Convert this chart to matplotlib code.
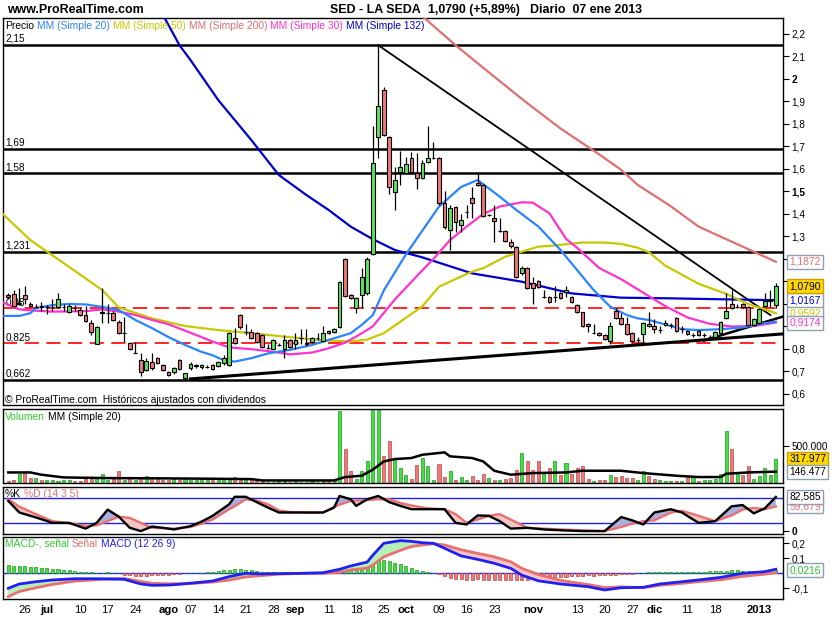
import numpy as np
import pandas as pd
import matplotlib
matplotlib.use("Agg")
import matplotlib.pyplot as plt
from matplotlib import font_manager
from matplotlib.transforms import blended_transform_factory as blend

# ---------------- data ----------------
dates = pd.bdate_range("2012-06-21", "2013-01-07")
dates = dates.drop(pd.to_datetime(["2012-12-25", "2012-12-26", "2013-01-01"]))

opens = [1.040, 1.044, 0.998, 1.040, 1.000, 0.988, 0.993, 0.985, 0.985, 0.987,
         0.985, 0.964, 0.982, 0.973, 0.951, 0.915, 0.822, 0.962, 0.960, 0.960,
         0.920, 0.871, 0.827, 0.782, 0.751, 0.707, 0.742, 0.760, 0.729, 0.698,
         0.698, 0.751, 0.671, 0.716, 0.725, 0.719, 0.722, 0.729, 0.726, 0.738,
         0.729, 0.849, 0.951, 0.876, 0.876, 0.871, 0.862, 0.804, 0.800, 0.818,
         0.800, 0.840, 0.822, 0.849, 0.820, 0.831, 0.849, 0.836, 0.880, 0.876,
         0.898, 1.200, 1.040, 0.982, 1.040, 1.049, 1.222, 1.742, 1.951, 1.742,
         1.498, 1.587, 1.582, 1.649, 1.582, 1.560, 1.631, 1.649, 1.649, 1.449,
         1.329, 1.431, 1.351, 1.409, 1.471, 1.538, 1.529, 1.396, 1.382, 1.324,
         1.324, 1.276, 1.253, 1.138, 1.160, 1.093, 1.102, 1.031, 1.031, 1.031,
         1.049, 1.053, 1.031, 0.996, 0.964, 0.911, 0.871, 0.871, 0.862, 0.836,
         0.969, 0.938, 0.911, 0.871, 0.840, 0.867, 0.911, 0.902, 0.884, 0.907,
         0.905, 0.938, 0.889, 0.880, 0.862, 0.880, 0.862, 0.855, 0.853, 0.871,
         0.938, 1.000, 0.988, 1.000, 0.987, 0.907, 0.915, 0.991, 1.015, 0.996]
highs = [1.050, 1.060, 1.070, 1.080, 1.010, 1.000, 1.010, 0.995, 1.020, 1.050,
         1.000, 1.000, 0.995, 0.985, 0.990, 0.930, 0.900, 1.071, 1.000, 0.970,
         0.930, 0.942, 0.830, 0.830, 0.780, 0.760, 0.780, 0.765, 0.735, 0.702,
         0.720, 0.755, 0.695, 0.740, 0.735, 0.735, 0.730, 0.735, 0.748, 0.775,
         0.875, 0.893, 0.955, 0.910, 0.890, 0.875, 0.866, 0.820, 0.845, 0.825,
         0.860, 0.845, 0.870, 0.890, 0.890, 0.855, 0.870, 0.900, 0.885, 0.895,
         1.100, 1.205, 1.045, 1.030, 1.160, 1.210, 1.791, 2.151, 1.965, 1.745,
         1.609, 1.680, 1.655, 1.675, 1.670, 1.640, 1.791, 1.720, 1.652, 1.500,
         1.440, 1.435, 1.400, 1.440, 1.520, 1.582, 1.532, 1.400, 1.440, 1.380,
         1.330, 1.290, 1.256, 1.170, 1.165, 1.120, 1.105, 1.060, 1.035, 1.080,
         1.052, 1.080, 1.035, 1.000, 0.966, 0.914, 0.910, 0.874, 0.865, 0.920,
         0.980, 0.960, 0.940, 0.875, 0.855, 0.920, 0.964, 0.933, 0.900, 0.930,
         0.915, 0.942, 0.900, 0.884, 0.870, 0.884, 0.870, 0.862, 0.880, 0.925,
         1.049, 1.062, 1.000, 1.004, 0.990, 0.936, 0.982, 1.049, 1.062, 1.093]
lows = [1.020, 0.985, 0.995, 1.000, 0.985, 0.980, 0.970, 0.955, 0.970, 0.980,
        0.970, 0.960, 0.970, 0.945, 0.920, 0.860, 0.820, 0.915, 0.915, 0.925,
        0.865, 0.831, 0.795, 0.780, 0.680, 0.700, 0.705, 0.735, 0.700, 0.680,
        0.690, 0.705, 0.662, 0.705, 0.715, 0.710, 0.715, 0.705, 0.720, 0.730,
        0.725, 0.820, 0.890, 0.860, 0.845, 0.825, 0.805, 0.800, 0.798, 0.812,
        0.760, 0.805, 0.800, 0.820, 0.815, 0.825, 0.840, 0.830, 0.868, 0.870,
        0.895, 1.030, 1.020, 0.960, 0.982, 1.040, 1.218, 1.649, 1.745, 1.490,
        1.418, 1.530, 1.580, 1.585, 1.510, 1.555, 1.628, 1.645, 1.440, 1.335,
        1.240, 1.320, 1.320, 1.380, 1.380, 1.525, 1.385, 1.390, 1.277, 1.320,
        1.275, 1.250, 1.115, 1.130, 1.065, 1.000, 1.070, 1.025, 1.005, 1.010,
        1.022, 1.030, 1.005, 0.960, 0.898, 0.875, 0.866, 0.858, 0.840, 0.820,
        0.935, 0.908, 0.862, 0.832, 0.820, 0.822, 0.898, 0.871, 0.870, 0.900,
        0.895, 0.876, 0.870, 0.862, 0.855, 0.858, 0.855, 0.848, 0.850, 0.866,
        0.935, 0.978, 0.980, 0.983, 0.904, 0.904, 0.912, 0.988, 0.985, 0.982]
closes = [1.030, 0.991, 1.003, 1.022, 0.991, 0.988, 0.985, 0.985, 0.987, 1.022,
          0.985, 0.991, 0.980, 0.951, 0.925, 0.876, 0.898, 0.965, 0.960, 0.929,
          0.871, 0.871, 0.800, 0.782, 0.698, 0.747, 0.716, 0.738, 0.707, 0.684,
          0.716, 0.711, 0.693, 0.733, 0.730, 0.728, 0.722, 0.710, 0.744, 0.760,
          0.871, 0.827, 0.898, 0.876, 0.849, 0.831, 0.809, 0.804, 0.840, 0.818,
          0.840, 0.809, 0.838, 0.849, 0.827, 0.849, 0.849, 0.871, 0.871, 0.889,
          1.098, 1.036, 1.027, 1.027, 1.120, 1.200, 1.627, 1.880, 1.751, 1.520,
          1.551, 1.609, 1.622, 1.587, 1.560, 1.627, 1.649, 1.649, 1.449, 1.342,
          1.427, 1.364, 1.373, 1.409, 1.449, 1.529, 1.391, 1.396, 1.369, 1.324,
          1.280, 1.258, 1.120, 1.160, 1.071, 1.071, 1.076, 1.031, 1.009, 1.031,
          1.027, 1.062, 1.009, 0.964, 0.902, 0.902, 0.871, 0.862, 0.844, 0.902,
          0.938, 0.911, 0.867, 0.836, 0.840, 0.915, 0.902, 0.889, 0.884, 0.915,
          0.905, 0.880, 0.889, 0.867, 0.862, 0.862, 0.862, 0.855, 0.876, 0.920,
          0.969, 0.982, 0.988, 0.987, 0.907, 0.933, 0.978, 1.013, 1.019, 1.079]

# moving averages (read at sample points)
sma20_idx = [-1, 2, 4, 5, 8, 11, 14, 17, 20, 23, 26, 29, 32, 35, 37, 39, 41, 44, 47, 51,
             55, 58, 62, 64, 66, 68, 72, 78, 82, 85, 89, 92, 96, 100, 103, 106, 109, 112, 114, 116,
             122, 125, 129, 133, 136, 139]
sma20 = [0.947, 0.947, 0.959, 0.982, 0.995, 1.000, 0.998, 0.987, 0.973, 0.929,
         0.893, 0.853, 0.818, 0.787, 0.772, 0.750, 0.744, 0.759, 0.780, 0.796,
         0.818, 0.840, 0.870, 0.907, 0.950, 1.060, 1.220, 1.433, 1.520, 1.551,
         1.477, 1.418, 1.344, 1.240, 1.151, 1.062, 0.988, 0.951, 0.936, 0.929,
         0.888, 0.884, 0.888, 0.896, 0.911, 0.921]
sma30_idx = [-1, 2, 5, 8, 14, 17, 20, 23, 26, 29, 33, 37, 40, 44, 48, 51, 55, 58, 61, 63,
             66, 70, 75, 77, 80, 83, 86, 89, 93, 95, 98, 101, 103, 107, 111, 115, 119, 123, 127, 131,
             135, 139]
sma30 = [1.007, 0.976, 0.970, 0.966, 0.968, 0.976, 0.966, 0.951, 0.929, 0.910,
         0.872, 0.833, 0.807, 0.799, 0.788, 0.776, 0.784, 0.803, 0.828, 0.855,
         0.900, 1.020, 1.150, 1.200, 1.284, 1.344, 1.400, 1.433, 1.452, 1.450,
         1.403, 1.290, 1.250, 1.160, 1.110, 1.050, 0.990, 0.940, 0.912, 0.900,
         0.902, 0.9174]
sma50_idx = [-1, 2, 4, 11, 17, 20, 26, 32, 38, 44, 50, 56, 62, 65, 68, 71, 75, 78, 84, 86,
             90, 92, 96, 98, 104, 108, 111, 114, 116, 119, 125, 130, 134, 139]
sma50 = [1.400, 1.330, 1.284, 1.165, 1.062, 0.985, 0.936, 0.902, 0.884, 0.870,
         0.855, 0.840, 0.833, 0.842, 0.870, 0.921, 0.990, 1.077, 1.144, 1.159,
         1.210, 1.225, 1.255, 1.258, 1.273, 1.273, 1.267, 1.250, 1.230, 1.170,
         1.090, 1.045, 1.000, 0.9592]
sma132_idx = [27, 31, 33, 38, 44, 49, 54, 58, 62, 66, 70, 75, 84, 93, 102, 111, 120, 129, 139]
sma132 = [2.330, 2.150, 2.084, 1.907, 1.729, 1.573, 1.484, 1.418, 1.344, 1.288,
          1.240, 1.207, 1.136, 1.099, 1.047, 1.028, 1.025, 1.021, 1.0167]
sma200_idx = [74, 81, 87, 94, 100, 107, 111, 114, 120, 125, 131, 137, 139]
sma200 = [2.300, 2.150, 2.030, 1.892, 1.780, 1.665, 1.596, 1.529, 1.434, 1.344, 1.277, 1.210, 1.1872]

solid_levels = [2.15, 1.69, 1.58, 1.231, 0.662]
solid_labels = ["2,15", "1,69", "1,58", "1,231", "0,662"]
dashed_levels = [0.98, 0.825]
dashed_labels = ["0,98", "0,825"]

trend_desc = ([67, 138], [2.150, 0.951])
trend_low = ([33, 140.3], [0.667, 0.867])
trend_steep = ([126, 140.3], [0.838, 0.944])

# volume (thousands)
volume_k = [14, 36, 118, 127, 59, 55, 36, 27, 36, 18,
            27, 36, 18, 23, 45, 45, 55, 118, 36, 45,
            150, 36, 55, 27, 73, 82, 55, 45, 36, 36,
            45, 36, 45, 27, 36, 45, 36, 27, 55, 45,
            64, 73, 36, 45, 55, 14, 14, 9, 9, 18,
            18, 9, 18, 9, 9, 18, 9, 18, 27, 45,
            968, 455, 159, 45, 159, 286, 1100, 1100, 364, 568,
            318, 195, 105, 45, 241, 332, 218, 36, 255, 73,
            150, 36, 73, 36, 91, 36, 118, 55, 27, 27,
            45, 59, 173, 400, 286, 173, 286, 118, 195, 295,
            105, 264, 118, 195, 218, 50, 23, 27, 27, 105,
            73, 82, 55, 59, 36, 159, 91, 45, 27, 23,
            23, 23, 23, 91, 91, 23, 27, 27, 45, 118,
            695, 455, 136, 105, 218, 50, 82, 195, 105, 318]
vma_idx = [0, 4, 6, 10, 18, 28, 37, 44, 46, 59, 61, 64, 66, 68, 70, 73, 75, 79, 80, 84,
           86, 88, 91, 95, 101, 104, 111, 115, 121, 125, 129, 130, 134, 139]
vma_k = [136, 136, 105, 68, 59, 55, 50, 45, 27, 27, 73, 91, 173, 286, 318, 332, 377, 409, 355, 332,
         286, 159, 105, 127, 136, 159, 159, 127, 91, 73, 73, 118, 136, 146.477]

# stochastic
st_idx = [0, 2, 5, 8, 11, 14, 16, 18, 20, 22, 24, 26, 28, 30, 33, 35, 37, 40, 41, 43,
          45, 47, 49, 51, 54, 57, 59, 60, 62, 63, 65, 67, 69, 71, 73, 76, 79, 81, 83, 85,
          87, 89, 91, 94, 97, 100, 104, 108, 111, 113, 115, 117, 120, 122, 125, 128, 131, 133, 135, 137,
          139]
st_k = [73, 45, 33, 20, 20, 6, 20, 52, 35, 8, 0, 11, 8, 4, 12, 23, 37, 65, 83, 83,
        70, 57, 45, 45, 45, 45, 57, 85, 77, 61, 77, 85, 70, 61, 53, 53, 53, 20, 16, 38,
        37, 24, 6, 8, 4, 2, 0, 0, 34, 26, 16, 45, 53, 45, 20, 24, 60, 63, 43, 55,
        82.585]
st_d = [77, 59, 41, 24, 19, 13, 14, 24, 35, 32, 20, 8, 7, 6, 10, 18, 28, 53, 60, 77,
        74, 65, 50, 46, 45, 45, 58, 64, 73, 74, 75, 77, 77, 68, 62, 55, 53, 41, 20, 28,
        37, 41, 28, 8, 6, 4, 2, 0, 10, 18, 24, 26, 45, 49, 37, 24, 38, 52, 56, 53,
        59.679]

# MACD
m_idx = [0, 2, 5, 8, 12, 17, 21, 24, 26, 29, 31, 34, 37, 40, 43, 46, 49, 53, 57, 60,
         62, 65, 66, 68, 71, 73, 75, 77, 79, 82, 85, 88, 91, 93, 96, 100, 105, 108, 111, 115,
         118, 122, 125, 129, 133, 137, 139]
macd = [-0.100, -0.071, -0.056, -0.044, -0.036, -0.036, -0.040, -0.071, -0.080, -0.078,
        -0.073, -0.062, -0.051, -0.022, 0.000, -0.004, -0.002, 0.000, 0.004, 0.027,
        0.049, 0.075, 0.120, 0.200, 0.218, 0.213, 0.204, 0.200, 0.167, 0.116,
        0.093, 0.067, 0.033, -0.012, -0.050, -0.071, -0.089, -0.111, -0.096, -0.093,
        -0.071, -0.056, -0.044, -0.027, 0.000, 0.011, 0.027]
signal = [-0.155, -0.121, -0.096, -0.074, -0.052, -0.040, -0.034, -0.054, -0.066, -0.070,
          -0.069, -0.066, -0.058, -0.045, -0.024, -0.015, -0.006, 0.000, 0.000, 0.007,
          0.022, 0.035, 0.055, 0.110, 0.153, 0.178, 0.189, 0.197, 0.189, 0.157,
          0.133, 0.110, 0.077, 0.033, -0.008, -0.047, -0.075, -0.095, -0.090, -0.096,
          -0.080, -0.067, -0.056, -0.043, -0.020, -0.006, 0.005]
hist = [0.055, 0.052, 0.050, 0.048, 0.045, 0.040, 0.038, 0.035, 0.030, 0.028,
        0.025, 0.022, 0.018, 0.012, 0.008, 0.006, 0.005, 0.004, 0.006, 0.005,
        0.000, -0.008, -0.014, -0.016, -0.018, -0.016, -0.014, -0.012, -0.010, -0.008,
        -0.006, -0.004, 0.000, 0.003, 0.004, 0.004, 0.006, 0.008, 0.014, 0.020,
        0.024, 0.026, 0.026, 0.025, 0.022, 0.018, 0.012, 0.008, 0.006, 0.004,
        0.003, 0.002, 0.001, 0.000, 0.001, 0.002, 0.003, 0.005, 0.010, 0.014,
        0.020, 0.024, 0.027, 0.030, 0.035, 0.040, 0.065, 0.090, 0.090, 0.080,
        0.070, 0.060, 0.048, 0.036, 0.025, 0.015, 0.008, 0.002, -0.006, -0.020,
        -0.030, -0.036, -0.040, -0.042, -0.042, -0.040, -0.042, -0.043, -0.043, -0.044,
        -0.044, -0.044, -0.045, -0.045, -0.042, -0.040, -0.038, -0.034, -0.030, -0.027,
        -0.024, -0.022, -0.020, -0.018, -0.016, -0.014, -0.015, -0.014, -0.012, -0.010,
        -0.008, -0.006, -0.004, -0.002, 0.000, 0.004, 0.006, 0.008, 0.008, 0.010,
        0.010, 0.010, 0.011, 0.012, 0.012, 0.012, 0.012, 0.013, 0.014, 0.015,
        0.018, 0.020, 0.020, 0.018, 0.016, 0.014, 0.014, 0.016, 0.018, 0.0216]

# tick labels hidden under the value boxes are left blank
price_ticks = [2.2, 2.1, 2.0, 1.9, 1.8, 1.7, 1.6, 1.5, 1.4, 1.3, 1.2, 1.1, 1.0, 0.9, 0.8, 0.7, 0.6]
price_tick_labels = ["2,2", "2,1", "2", "1,9", "1,8", "1,7", "1,6", "1,5", "1,4", "1,3",
                     "", "", "", "", "0,8", "0,7", "0,6"]
tick_dates = ["2012-06-26", "2012-07-02", "2012-07-10", "2012-07-17", "2012-07-24", "2012-08-01",
              "2012-08-07", "2012-08-14", "2012-08-21", "2012-08-28", "2012-09-03", "2012-09-11",
              "2012-09-18", "2012-09-25", "2012-10-01", "2012-10-09", "2012-10-16", "2012-10-23",
              "2012-11-01", "2012-11-13", "2012-11-20", "2012-11-27", "2012-12-03", "2012-12-11",
              "2012-12-18", "2013-01-02"]
tick_texts = ["26", "jul", "10", "17", "24", "ago", "07", "14", "21", "28", "sep", "11", "18",
              "25", "oct", "09", "16", "23", "nov", "13", "20", "27", "dic", "11", "18", "2013"]

# ---------------- style ----------------
names = {f.name for f in font_manager.fontManager.ttflist}
NARROW = "Liberation Sans Narrow" in names
FONT = "Liberation Sans Narrow" if NARROW else "Liberation Sans"
SC = 1.0 if NARROW else 0.85
plt.rcParams["font.family"] = [FONT, "DejaVu Sans"]

C20, C50, C200, C30, C132 = "#2b84ff", "#c8c800", "#e07070", "#ff33cc", "#0000cc"
GREEN, RED = "#5ce65c", "#f07878"
SALMON = "#e87070"

W, H = 835, 620
fig = plt.figure(figsize=(W / 100, H / 100), dpi=100)
fig.patch.set_facecolor("white")


def rect(x0, y0, x1, y1):
    return [x0 / W, 1 - y1 / H, (x1 - x0) / W, (y1 - y0) / H]


XL = (-0.96, 140.3)
ax_p = fig.add_axes(rect(3, 18, 783, 405))
ax_v = fig.add_axes(rect(3, 409, 783, 483))
ax_s = fig.add_axes(rect(3, 487, 783, 534))
ax_m = fig.add_axes(rect(3, 537, 783, 599))
for ax in (ax_p, ax_v, ax_s, ax_m):
    for s in ax.spines.values():
        s.set_linewidth(1.0)
    ax.set_xlim(*XL)
    ax.yaxis.tick_right()
    ax.tick_params(axis="y", direction="out", length=4, width=0.8, labelsize=8.5 * SC, pad=2)
    ax.tick_params(axis="x", length=0)
for ax in (ax_p, ax_v, ax_s):
    ax.set_xticks([])

x = np.arange(len(dates))
o, h, l, c = map(np.array, (opens, highs, lows, closes))
up = c >= o

# ---------------- price panel ----------------
ax_p.set_ylim(0.551, 2.271)
ax_p.set_yticks(price_ticks)
ax_p.set_yticklabels(price_tick_labels)
for lab in ax_p.get_yticklabels():
    if lab.get_text() in ("2", "1,5"):
        lab.set_fontweight("bold")

for lv, lab in zip(solid_levels, solid_labels):
    ax_p.axhline(lv, color="black", lw=1.8, zorder=2)
    ax_p.text(-0.55, lv + 0.006, lab, fontsize=8.5 * SC, va="bottom", ha="left", zorder=1)
for lv, lab in zip(dashed_levels, dashed_labels):
    ax_p.axhline(lv, color="#ff0000", lw=1.2, dashes=(8.5, 4.5), zorder=2)
    ax_p.text(-0.55, lv + 0.006, lab, fontsize=8.5 * SC, va="bottom", ha="left", zorder=1)

ax_p.plot(*trend_desc, color="black", lw=1.3, zorder=3)
ax_p.plot(*trend_low, color="black", lw=2.2, zorder=3)
ax_p.plot(*trend_steep, color="black", lw=1.8, zorder=3)

for ix, vals, col in ((sma200_idx, sma200, C200), (sma132_idx, sma132, C132),
                      (sma50_idx, sma50, C50), (sma30_idx, sma30, C30), (sma20_idx, sma20, C20)):
    ax_p.plot(ix, vals, color=col, lw=1.6, zorder=3.2)

ax_p.vlines(x, l, h, color="black", lw=0.9, zorder=4)
ax_p.bar(x, c - o, bottom=o, width=0.68, color=np.where(up, GREEN, RED),
         edgecolor="black", linewidth=0.8, zorder=5)

ax_p.text(-0.55, 0.575, "\u00a9 ProRealTime.com  Hist\u00f3ricos ajustados con dividendos",
          fontsize=8.7 * SC, va="center", ha="left")

bp = blend(ax_p.transAxes, ax_p.transData)


def vbox(ax, tr, y, s, fc, tc, ec="#90a0b0", z=10):
    ax.text(1.008, y, s, transform=tr, fontsize=8.7 * SC, color=tc, ha="left", va="center",
            bbox=dict(boxstyle="square,pad=0.2", fc=fc, ec=ec, lw=1.0), zorder=z, clip_on=False)


vbox(ax_p, bp, 1.1872, "1,1872", "white", SALMON)
vbox(ax_p, bp, 0.9592, "0,9592", "white", C50, z=9)
vbox(ax_p, bp, 1.079, "1,0790", "#ffd700", "black", ec="#c8a000", z=11)
vbox(ax_p, bp, 1.0167, "1,0167", "white", C132, z=10)
vbox(ax_p, bp, 0.9174, "0,9174", "white", C30, z=12)

# ---------------- volume panel ----------------
vol = np.array(volume_k) * 1000.0
ax_v.set_ylim(-8000, 1.0e6)
ax_v.bar(x, vol, width=0.55, color=np.where(up, "#44dd44", "#f07878"),
         edgecolor=np.where(up, "#1a9a1a", "#b84848"), linewidth=0.5, zorder=2)
ax_v.plot(vma_idx, np.array(vma_k) * 1000.0, color="black", lw=1.8, zorder=3)
ax_v.set_yticks([500000])
ax_v.set_yticklabels(["500.000"])
bv = blend(ax_v.transAxes, ax_v.transData)
vbox(ax_v, bv, 317977, "317.977", "#ffd700", "black", ec="#c8a000", z=10)
vbox(ax_v, bv, 146477, "146.477", "white", "black", z=11)

# ---------------- stochastic panel ----------------
ax_s.set_ylim(-7, 106.7)
ax_s.axhline(80, color="#2020e0", lw=1.0, zorder=1)
ax_s.axhline(20, color="#2020e0", lw=1.0, zorder=1)
sk, sd = np.array(st_k, float), np.array(st_d, float)
ax_s.fill_between(st_idx, sk, sd, where=sk >= sd, interpolate=True, color="#aab0dc", lw=0, zorder=2)
ax_s.fill_between(st_idx, sk, sd, where=sk < sd, interpolate=True, color="#f5c4c4", lw=0, zorder=2)
ax_s.plot(st_idx, sd, color=SALMON, lw=1.7, zorder=3)
ax_s.plot(st_idx, sk, color="black", lw=1.7, zorder=4)
ax_s.set_yticks([0])
ax_s.set_yticklabels(["0"])
for lab in ax_s.get_yticklabels():
    lab.set_fontweight("bold")
bs = blend(ax_s.transAxes, ax_s.transData)
vbox(ax_s, bs, 59.679, "59,679", "white", SALMON, z=9)
vbox(ax_s, bs, 82.585, "82,585", "white", "black", z=10)

# ---------------- MACD panel ----------------
ax_m.set_ylim(-0.171, 0.242)
ax_m.axhline(0, color="#2020e0", lw=1.0, zorder=1)
hv = np.array(hist)
ax_m.bar(x, hv, width=0.55, color=np.where(hv >= 0, "#44dd44", "#f07878"),
         edgecolor=np.where(hv >= 0, "#1a9a1a", "#b84848"), linewidth=0.5, zorder=2)
mv, sv = np.array(macd), np.array(signal)
ax_m.fill_between(m_idx, mv, sv, where=mv >= sv, interpolate=True, color="#b6f0b6", lw=0, zorder=2.5)
ax_m.fill_between(m_idx, mv, sv, where=mv < sv, interpolate=True, color="#f5c4c4", lw=0, zorder=2.5)
ax_m.plot(m_idx, sv, color=SALMON, lw=2.0, zorder=3)
ax_m.plot(m_idx, mv, color="#2020f0", lw=2.0, zorder=4)
ax_m.set_yticks([0.2, 0.1, -0.1])
ax_m.set_yticklabels(["0,2", "0,1", "-0,1"])
bm = blend(ax_m.transAxes, ax_m.transData)
vbox(ax_m, bm, 0.0216, "0,0216", "white", "#33bb33", z=10)

tick_pos = [dates.get_loc(pd.Timestamp(d)) for d in tick_dates]
ax_m.set_xticks(tick_pos)
ax_m.set_xticklabels(tick_texts)
ax_m.tick_params(axis="x", length=0, pad=4, labelsize=9.5 * SC)
for lab in ax_m.get_xticklabels():
    if not lab.get_text().isdigit() or lab.get_text() == "2013":
        lab.set_fontweight("bold")

# ---------------- texts ----------------
fig.text(7 / W, 1 - 10 / H, "www.ProRealTime.com", fontsize=10.5 * SC, fontweight="bold", va="center")
fig.text(330 / W, 1 - 10 / H, "SED - LA SEDA", fontsize=10.5 * SC, fontweight="bold", va="center")
fig.text(428 / W, 1 - 10 / H, "1,0790 (+5,89%)", fontsize=10.5 * SC, fontweight="bold", va="center")
fig.text(530 / W, 1 - 10 / H, "Diario  07 ene 2013", fontsize=10.5 * SC, fontweight="bold", va="center")

renderer = fig.canvas.get_renderer()


def runs(px, py, parts, size=8.7):
    for s, col in parts:
        t = fig.text(px / W, 1 - py / H, s, color=col, fontsize=size * SC, va="center", ha="left")
        px += t.get_window_extent(renderer=renderer).width + 3


runs(5, 26, [("Precio", "black"), ("MM (Simple 20)", C20), ("MM (Simple 50)", C50),
             ("MM (Simple 200)", C200), ("MM (Simple 30)", C30), ("MM (Simple 132)", C132)])
runs(5, 417, [("Volumen", "#33cc33"), ("MM (Simple 20)", "black")])
runs(5, 494, [("%K", "black"), ("%D (14 3 5)", SALMON)])
runs(5, 544, [("MACD-, se\u00f1al", "#33cc33"), ("Se\u00f1al", SALMON), ("MACD (12 26 9)", "#2020f0")])

fig.savefig("out.png", dpi=100, facecolor="white")
